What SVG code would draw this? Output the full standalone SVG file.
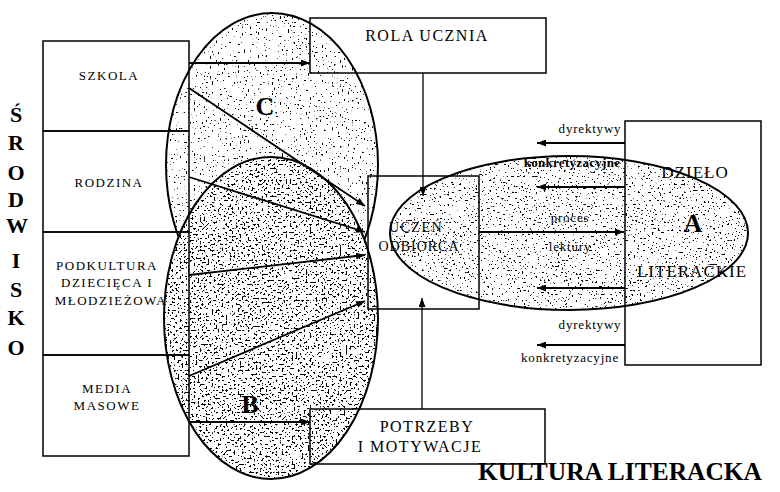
<svg xmlns="http://www.w3.org/2000/svg" width="780" height="492" viewBox="0 0 780 492">
<defs>
<style>
.box{fill:none;stroke:#000;stroke-width:1.5}
.ell{fill:none;stroke:#000;stroke-width:2}
.lbl{font-family:"Liberation Serif","Times New Roman",serif;fill:#000;text-anchor:middle}
.cap{font-size:13px;letter-spacing:1.5px}
.mid{font-size:16px;letter-spacing:1.5px}
.big{font-size:26px;font-weight:bold}
.side{font-size:22px;font-weight:bold}
.sm{font-size:13px;letter-spacing:0.8px}
.con{fill:none;stroke:#000;stroke-width:1.8}
.thin{fill:none;stroke:#000;stroke-width:1.3}
</style>
<marker id="ah" markerWidth="9" markerHeight="7" refX="9" refY="3.5" orient="auto" markerUnits="userSpaceOnUse">
<path d="M0,0 L9,3.5 L0,7 z" fill="#000"/>
</marker>
<filter id="spC" x="0" y="0" width="1" height="1" color-interpolation-filters="sRGB">
<feTurbulence type="fractalNoise" baseFrequency="0.5" numOctaves="3" seed="3" result="n"/>
<feColorMatrix in="n" type="matrix" values="0 0 0 0 0 0 0 0 0 0 0 0 0 0 0 -30 0 0 0 9.5" result="m"/>
<feComposite in="m" in2="SourceGraphic" operator="in"/>
</filter>
<filter id="spB" x="0" y="0" width="1" height="1" color-interpolation-filters="sRGB">
<feTurbulence type="fractalNoise" baseFrequency="0.5" numOctaves="3" seed="11" result="n"/>
<feColorMatrix in="n" type="matrix" values="0 0 0 0 0 0 0 0 0 0 0 0 0 0 0 -30 0 0 0 11.8" result="m"/>
<feComposite in="m" in2="SourceGraphic" operator="in"/>
</filter>
<filter id="spA" x="0" y="0" width="1" height="1" color-interpolation-filters="sRGB">
<feTurbulence type="fractalNoise" baseFrequency="0.5" numOctaves="3" seed="7" result="n"/>
<feColorMatrix in="n" type="matrix" values="0 0 0 0 0 0 0 0 0 0 0 0 0 0 0 -30 0 0 0 10.0" result="m"/>
<feComposite in="m" in2="SourceGraphic" operator="in"/>
</filter>
</defs>
<rect width="780" height="492" fill="#fff"/>

<g id="ellipse-C">
<ellipse cx="272" cy="165" rx="106" ry="152" fill="#000" filter="url(#spC)"/>
<ellipse class="ell" cx="272" cy="165" rx="106" ry="152"/>
<text class="lbl big" x="265" y="115">C</text>
</g>
<g id="ellipse-B">
<ellipse cx="271" cy="318" rx="107" ry="161" fill="#fff"/>
<ellipse cx="271" cy="318" rx="107" ry="161" fill="#000" filter="url(#spB)"/>
<ellipse class="ell" cx="271" cy="318" rx="107" ry="161"/>
<text class="lbl big" x="250" y="413">B</text>
</g>
<g id="ellipse-A">
<ellipse cx="569" cy="233" rx="179" ry="77" fill="#000" filter="url(#spA)"/>
<ellipse class="ell" cx="569" cy="233" rx="179" ry="77"/>
</g>

<g id="srodowisko">
<text class="lbl side" x="16" y="122">Ś</text>
<text class="lbl side" x="16" y="150">R</text>
<text class="lbl side" x="16" y="180">O</text>
<text class="lbl side" x="16" y="207">D</text>
<text class="lbl side" x="17" y="233">W</text>
<text class="lbl side" x="16" y="268">I</text>
<text class="lbl side" x="16" y="297">S</text>
<text class="lbl side" x="16" y="325">K</text>
<text class="lbl side" x="16" y="355">O</text>
</g>

<g id="szkola">
<rect class="box" x="43" y="41" width="146" height="90"/>
<text class="lbl cap" x="109" y="80">SZKOLA</text>
</g>
<g id="rodzina">
<rect class="box" x="43" y="131" width="146" height="101"/>
<text class="lbl cap" x="109" y="187">RODZINA</text>
</g>
<g id="podkultura">
<rect class="box" x="43" y="232" width="146" height="123"/>
<text class="lbl cap" x="107" y="270">PODKULTURA</text>
<text class="lbl cap" x="107" y="287">DZIECIĘCA I</text>
<text class="lbl cap" x="111" y="305">MŁODZIEŻOWA</text>
</g>
<g id="media">
<rect class="box" x="43" y="355" width="146" height="101"/>
<text class="lbl cap" x="107" y="393">MEDIA</text>
<text class="lbl cap" x="107" y="410">MASOWE</text>
</g>

<g id="rola-ucznia">
<rect class="box" x="310" y="18" width="236" height="55"/>
<text class="lbl mid" x="427" y="41">ROLA UCZNIA</text>
</g>
<g id="uczen-odbiorca">
<rect class="box" x="368" y="176" width="111" height="133"/>
<text class="lbl" style="font-size:14px;letter-spacing:1.5px" x="416" y="232">UCZEŃ</text>
<text class="lbl" style="font-size:14px;letter-spacing:1px" x="419" y="251">ODBIORCA</text>
</g>
<g id="potrzeby">
<rect class="box" x="310" y="409" width="235" height="55"/>
<text class="lbl mid" x="427" y="432">POTRZEBY</text>
<text class="lbl mid" x="420" y="452">I MOTYWACJE</text>
</g>
<g id="dzielo">
<rect class="box" x="625" y="121" width="136" height="244"/>
<text class="lbl" style="font-size:17px;letter-spacing:1px" x="695" y="178">DZIEŁO</text>
<text class="lbl big" x="693" y="232">A</text>
<text class="lbl" style="font-size:17px;letter-spacing:1px" x="692" y="277">LITERACKIE</text>
</g>

<g id="connectors">
<line class="con" x1="189" y1="63" x2="310" y2="63" marker-end="url(#ah)"/>
<line class="con" x1="189" y1="88" x2="365" y2="206" marker-end="url(#ah)"/>
<line class="con" x1="189" y1="177" x2="365" y2="232" marker-end="url(#ah)"/>
<line class="con" x1="189" y1="275" x2="365" y2="255" marker-end="url(#ah)"/>
<line class="con" x1="189" y1="376" x2="365" y2="301" marker-end="url(#ah)"/>
<line class="con" x1="189" y1="422" x2="310" y2="422" marker-end="url(#ah)"/>
<line class="thin" x1="423" y1="73" x2="423" y2="196" marker-end="url(#ah)"/>
<line class="thin" x1="422" y1="409" x2="422" y2="298" marker-end="url(#ah)"/>
<line class="con" x1="625" y1="143" x2="537" y2="143" marker-end="url(#ah)"/>
<line class="con" x1="625" y1="187" x2="537" y2="187" marker-end="url(#ah)"/>
<line class="con" x1="479" y1="232" x2="624" y2="232" marker-end="url(#ah)"/>
<line class="con" x1="625" y1="288" x2="537" y2="288" marker-end="url(#ah)"/>
<line class="con" x1="625" y1="345" x2="537" y2="345" marker-end="url(#ah)"/>
</g>

<g id="connector-labels">
<text class="lbl sm" x="590" y="133">dyrektywy</text>
<text class="lbl" style="font-size:13px;font-weight:bold;letter-spacing:0.3px" x="572" y="167">konkretyzacyjne</text>
<text class="lbl sm" x="570" y="222">proces</text>
<text class="lbl sm" x="570" y="251">lektury</text>
<text class="lbl sm" x="590" y="329">dyrektywy</text>
<text class="lbl sm" x="570" y="362">konkretyzacyjne</text>
</g>

<g id="kultura-literacka">
<text class="lbl" style="font-size:25px;font-weight:bold;text-anchor:end" x="762" y="480" textLength="284" lengthAdjust="spacingAndGlyphs">KULTURA LITERACKA</text>
</g>
</svg>
